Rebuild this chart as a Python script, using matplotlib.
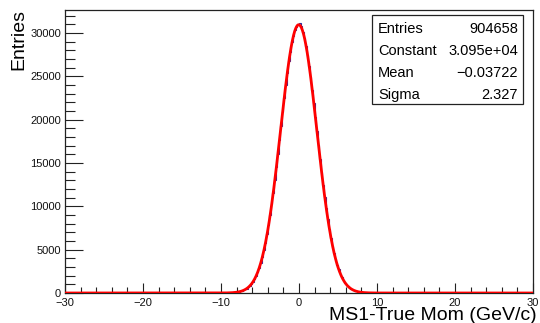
import numpy as np
import matplotlib
matplotlib.use("Agg")
import matplotlib.pyplot as plt
from matplotlib.ticker import MultipleLocator

plt.rcParams['font.family'] = ['Liberation Sans', 'DejaVu Sans']

# Histogram of MS1 - true momentum, 300 bins over [-30, 30] GeV/c
x_min, x_max, n_bins = -30.0, 30.0, 300
# Bin contents for the populated window [-9, 9] (90 bins of 0.2 GeV/c)
window_lo = -9.0
counts_window = [
    23, 29, 44, 55, 79, 101, 139, 178, 240, 305,
    404, 509, 660, 821, 1045, 1290, 1610, 1959, 2405, 2895,
    3494, 4150, 4930, 5770, 6755, 7790, 8980, 10215, 11590, 13000,
    14530, 16065, 17695, 19270, 20905, 22450, 23990, 25385, 26730, 27860,
    28910, 29700, 30370, 30735, 31010, 31120, 30760, 30110, 29460, 28515,
    27490, 26215, 24910, 23400, 21905, 20280, 18710, 17065, 15510, 13940,
    12490, 11050, 9765, 8505, 7410, 6360, 5462, 4615, 3910, 3250,
    2715, 2222, 1832, 1475, 1200, 950, 764, 592, 472, 360,
    284, 211, 166, 120, 94, 66, 52, 35, 28, 18,
]

# Gaussian fit results (stat box)
entries = 904658
fit_constant = 3.095e4
fit_mean = -0.03722
fit_sigma = 2.327

edges = np.linspace(x_min, x_max, n_bins + 1)
counts = np.zeros(n_bins)
i0 = int(round((window_lo - x_min) / (edges[1] - edges[0])))
counts[i0:i0 + len(counts_window)] = counts_window

W, H = 540, 323
fig = plt.figure(figsize=(W / 100, H / 100), dpi=100)
ax = fig.add_axes([65 / W, 1 - 293 / H, (533 - 65) / W, (293 - 10) / H])

ax.stairs(counts, edges, color='#2b2b9e', linewidth=0.8, zorder=2)

xf = np.linspace(x_min, x_max, 3000)
yf = fit_constant * np.exp(-0.5 * ((xf - fit_mean) / fit_sigma) ** 2)
ax.plot(xf, yf, color='#ff0000', linewidth=2.0, zorder=3)

ax.set_xlim(x_min, x_max)
ax.set_ylim(0, 32650)

ax.xaxis.set_major_locator(MultipleLocator(10))
ax.xaxis.set_minor_locator(MultipleLocator(2))
ax.yaxis.set_major_locator(MultipleLocator(5000))
ax.yaxis.set_minor_locator(MultipleLocator(1000))

ax.tick_params(axis='both', which='both', direction='in', top=False, right=False,
               width=0.8, color='#222222', labelsize=8, labelcolor='#111111')
ax.tick_params(axis='y', which='major', length=13, pad=3)
ax.tick_params(axis='y', which='minor', length=7)
ax.tick_params(axis='x', which='major', length=7, pad=3.5)
ax.tick_params(axis='x', which='minor', length=4)

xt = [-30, -20, -10, 0, 10, 20, 30]
ax.set_xticks(xt)
ax.set_xticklabels(['\u221230', '\u221220', '\u221210', '0', '10', '20', '30'])

for sp in ax.spines.values():
    sp.set_linewidth(0.9)
    sp.set_color('#222222')

# Axis titles, ROOT style: right-aligned at the end of each axis
fig.text(537 / W, 1 - 320 / H, 'MS1-True Mom (GeV/c)', fontsize=14,
         ha='right', va='baseline')
fig.text(19 / W, 1 - 9 / H, 'Entries', fontsize=14, rotation=90,
         ha='center', va='top')

# Statistics box
bx0, by0, bx1, by1 = 372 / W, 1 - 104 / H, 523 / W, 1 - 15 / H
fig.patches.append(plt.Rectangle((bx0, by0), bx1 - bx0, by1 - by0,
                                 transform=fig.transFigure, facecolor='white',
                                 edgecolor='#222222', linewidth=0.9, zorder=5))
rows = [
    ('Entries', f'{entries}'),
    ('Constant', f'{fit_constant:.3e}'),
    ('Mean', f'{fit_mean:.5f}'.replace('-', '\u2212')),
    ('Sigma', f'{fit_sigma:.3f}'),
]
row_y = [29, 51, 73, 95]
for (name, val), yp in zip(rows, row_y):
    fy = 1 - yp / H
    fig.text(378 / W, fy, name, fontsize=10.5, va='center', ha='left', zorder=6)
    fig.text(518 / W, fy, val, fontsize=10.5, va='center', ha='right', zorder=6)

fig.savefig('out.png', dpi=100)
